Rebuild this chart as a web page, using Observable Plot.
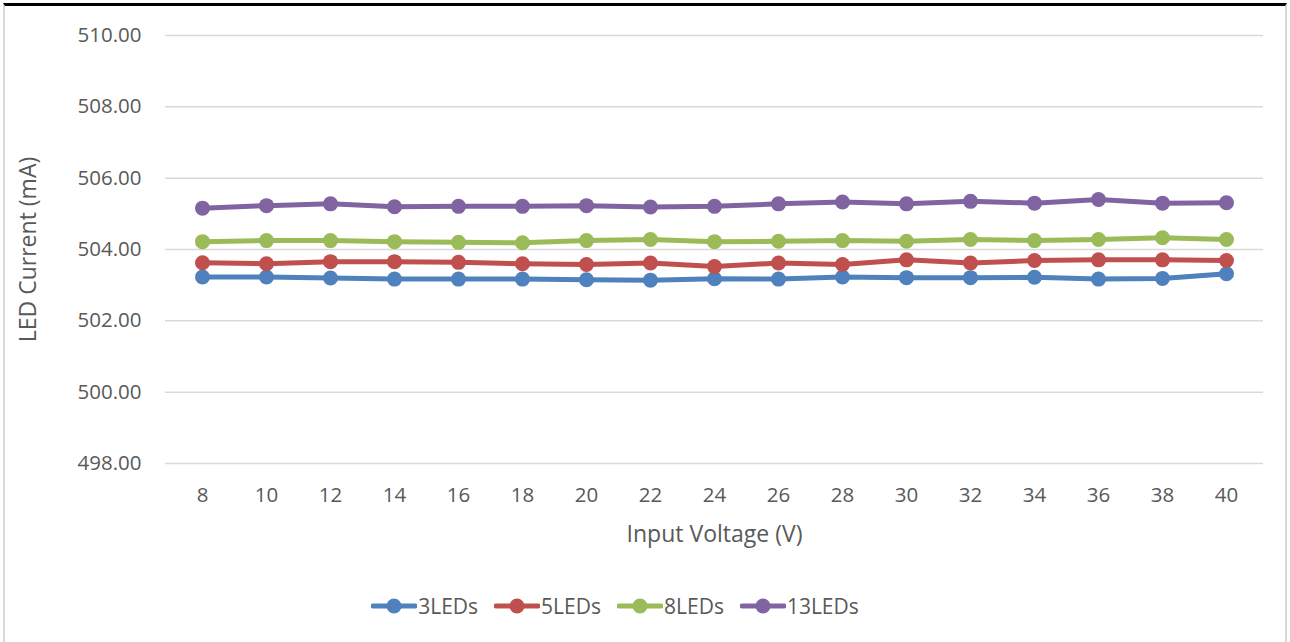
<!DOCTYPE html>
<html>
<head>
<meta charset="utf-8">
<script src="https://cdn.jsdelivr.net/npm/d3@7"></script>
<script src="https://cdn.jsdelivr.net/npm/@observablehq/plot@0.6"></script>
<style>
  html, body { margin: 0; padding: 0; background: #fff; }
  #wrap { position: relative; width: 1290px; height: 642px; overflow: hidden; font-family: "Open Sans", sans-serif; }
  #frame { position: absolute; left: 3px; top: 3px; width: 1284px; height: 650px; border-top: 3px solid #000; border-left: 2px solid #d9d9d9; border-right: 2px solid #d9d9d9; box-sizing: border-box; }
  #chart { position: absolute; left: 0; top: 0; }
  #legend { position: absolute; left: -60px; top: 592px; width: 1350px; display: flex; justify-content: center; align-items: center; gap: 0; color: #595959; font-size: 21px; }
  .item { display: flex; align-items: center; margin: 0 8px; }
  .item svg { margin-right: 1px; }
</style>
</head>
<body>
<div id="wrap">
  <div id="frame"></div>
  <div id="chart"></div>
  <div id="legend"></div>
</div>
<script>
const voltage = [8, 10, 12, 14, 16, 18, 20, 22, 24, 26, 28, 30, 32, 34, 36, 38, 40];
const led3  = [503.23, 503.23, 503.20, 503.17, 503.17, 503.17, 503.15, 503.14, 503.18, 503.17, 503.23, 503.21, 503.21, 503.22, 503.17, 503.19, 503.32];
const led5  = [503.63, 503.60, 503.66, 503.66, 503.64, 503.60, 503.58, 503.62, 503.52, 503.62, 503.58, 503.71, 503.62, 503.69, 503.71, 503.71, 503.69];
const led8  = [504.22, 504.25, 504.25, 504.22, 504.20, 504.19, 504.25, 504.28, 504.22, 504.23, 504.25, 504.23, 504.28, 504.25, 504.28, 504.33, 504.28];
const led13 = [505.16, 505.23, 505.28, 505.20, 505.21, 505.21, 505.23, 505.19, 505.21, 505.28, 505.33, 505.28, 505.35, 505.30, 505.40, 505.30, 505.31];
const seriesNames = ["3LEDs", "5LEDs", "8LEDs", "13LEDs"];
const seriesColors = ["#4F81BD", "#C0504D", "#9BBB59", "#8064A2"];
const yTicks = [498, 500, 502, 504, 506, 508, 510];
const xTitle = "Input Voltage (V)";
const yTitle = "LED Current (mA)";

const seriesValues = [led3, led5, led8, led13];
const data = [];
seriesNames.forEach((name, i) => {
  voltage.forEach((v, j) => data.push({series: name, voltage: v, current: seriesValues[i][j]}));
});

const textColor = "#595959";
const chart = Plot.plot({
  width: 1290,
  height: 560,
  marginTop: 35,
  marginBottom: 97,
  marginLeft: 165,
  marginRight: 27,
  style: {fontFamily: "'Open Sans', sans-serif", fontSize: "20.5px", color: textColor, background: "transparent"},
  x: {type: "point", domain: voltage, padding: 0.5},
  y: {domain: [498, 510]},
  color: {domain: seriesNames, range: seriesColors},
  marks: [
    Plot.gridY(yTicks, {stroke: "#d9d9d9", strokeOpacity: 1, strokeWidth: 1.5}),
    Plot.axisY(yTicks, {tickSize: 0, tickPadding: 24, tickFormat: d3.format(".2f"), label: null, fill: textColor}),
    Plot.axisX(voltage, {tickSize: 0, tickPadding: 24, label: null, fill: textColor}),
    Plot.text([xTitle], {frameAnchor: "bottom", dy: 71, lineAnchor: "middle", textAnchor: "middle", fill: textColor, fontSize: 23}),
    Plot.text([yTitle], {frameAnchor: "left", dx: -137, rotate: -90, lineAnchor: "middle", textAnchor: "middle", fill: textColor, fontSize: 23}),
    Plot.line(data, {x: "voltage", y: "current", z: "series", stroke: "series", strokeWidth: 5}),
    Plot.dot(data, {x: "voltage", y: "current", fill: "series", r: 7.5})
  ]
});
document.getElementById("chart").appendChild(chart);

const legend = document.getElementById("legend");
seriesNames.forEach((name, i) => {
  const item = document.createElement("div");
  item.className = "item";
  item.innerHTML = `<svg width="46" height="18"><line x1="2" x2="44" y1="9" y2="9" stroke="${seriesColors[i]}" stroke-width="5" stroke-linecap="round"/><circle cx="23" cy="9" r="7.5" fill="${seriesColors[i]}"/></svg><span>${name}</span>`;
  legend.appendChild(item);
});
</script>
</body>
</html>
